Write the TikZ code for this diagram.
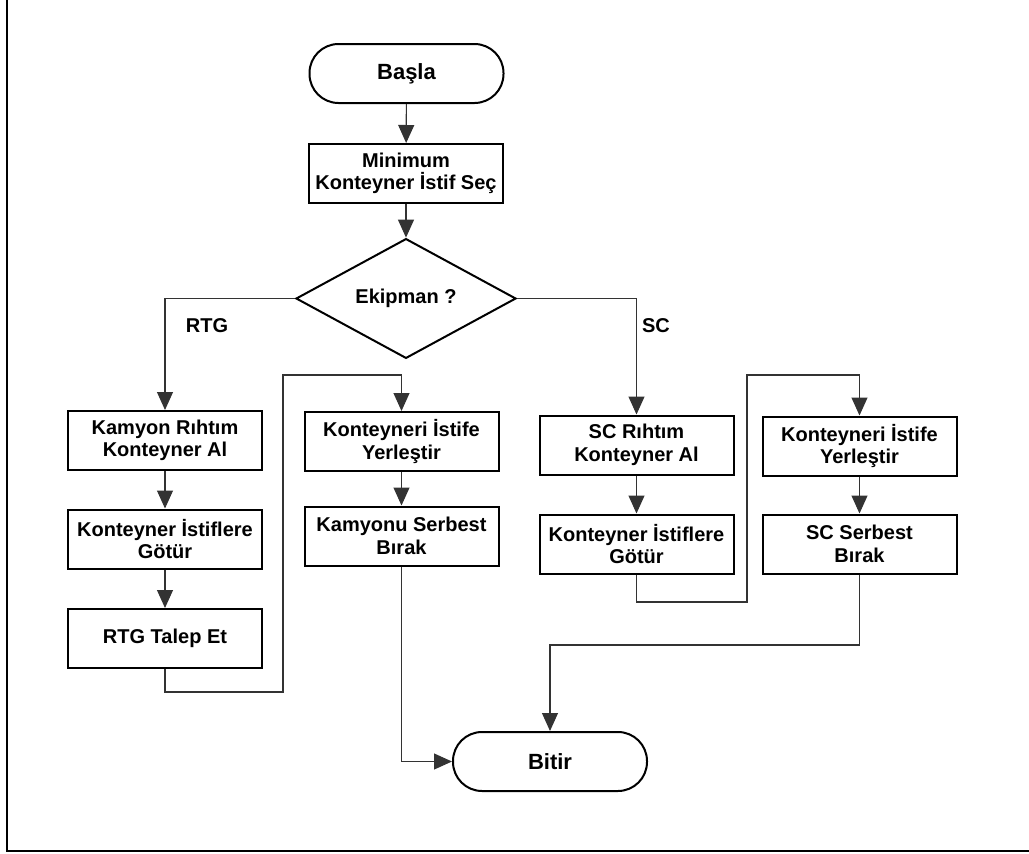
\documentclass[tikz,border=0pt]{standalone}
\usepackage{fontspec}
\setmainfont{Liberation Sans}
\usetikzlibrary{shapes.geometric,arrows.meta}

\begin{document}
\begin{tikzpicture}[x=1pt,y=-1pt,
  txt/.style={font=\fontsize{20}{22.5}\selectfont\bfseries},
  box/.style={txt,draw=black,line width=2pt,minimum width=194pt,minimum height=59pt,inner sep=0pt,align=center},
  term/.style={box,rounded corners=29pt,font=\fontsize{22}{24}\selectfont\bfseries},
  decision/.style={txt,diamond,draw=black,line width=2pt,minimum width=220pt,minimum height=117pt,inner sep=0pt},
  link/.style={draw=black!80,line width=1.1pt},
  flow/.style={link,-{Triangle[length=18pt,width=16pt]}}
]
\useasboundingbox (0,0) rectangle (1029,854);

% page frame (left and bottom edges)
\draw[line width=2pt] (7,0) -- (7,851) -- (1029,851);

% main spine
\node[term] (start) at (406.5,73.5) {Başla};
\node[box] (minsel) at (406,173.5) {Minimum\\Konteyner İstif Seç};
\node[decision] (equip) at (406,298.5) {Ekipman ?};

% RTG branch
\node[box] (rtg1) at (165,440.5) {Kamyon Rıhtım\\Konteyner Al};
\node[box] (rtg2) at (165,539) {Konteyner İstiflere\\Götür};
\node[box] (rtg3) at (165,638.5) {RTG Talep Et};
\node[box] (rtg4) at (401.5,441.5) {Konteyneri İstife\\Yerleştir};
\node[box] (rtg5) at (401.5,536) {Kamyonu Serbest\\Bırak};

% SC branch
\node[box] (sc1) at (636.5,445) {SC Rıhtım\\Konteyner Al};
\node[box] (sc2) at (636.5,544) {Konteyner İstiflere\\Götür};
\node[box] (sc3) at (859.5,446) {Konteyneri İstife\\Yerleştir};
\node[box] (sc4) at (859.5,544) {SC Serbest\\Bırak};

% end
\node[term] (stop) at (550,761.5) {Bitir};

% branch labels
\node[txt] (lrtg) at (207,326) {RTG};
\node[txt] (lsc) at (656,326) {SC};

% routing points
\coordinate (ra) at (283,692);
\coordinate (rb) at (283,375);
\coordinate (sa) at (747,602);
\coordinate (sb) at (747,375);
\coordinate (sd) at (550,645);

% connectors
\draw[flow] (start) -- (minsel);
\draw[flow] (minsel) -- (equip);
\draw[flow] (equip.west) -| (rtg1.north);
\draw[flow] (equip.east) -| (sc1.north);

\draw[flow] (rtg1) -- (rtg2);
\draw[flow] (rtg2) -- (rtg3);
\draw[flow] (rtg3.south) |- (ra) -- (rb) -| (rtg4.north);
\draw[flow] (rtg4) -- (rtg5);
\draw[flow] (rtg5.south) |- (stop.west);

\draw[flow] (sc1) -- (sc2);
\draw[flow] (sc2.south) |- (sa) -- (sb) -| (sc3.north);
\draw[flow] (sc3) -- (sc4);
\draw[flow] (sc4.south) |- (sd) -- (stop.north);
\end{tikzpicture}
\end{document}
